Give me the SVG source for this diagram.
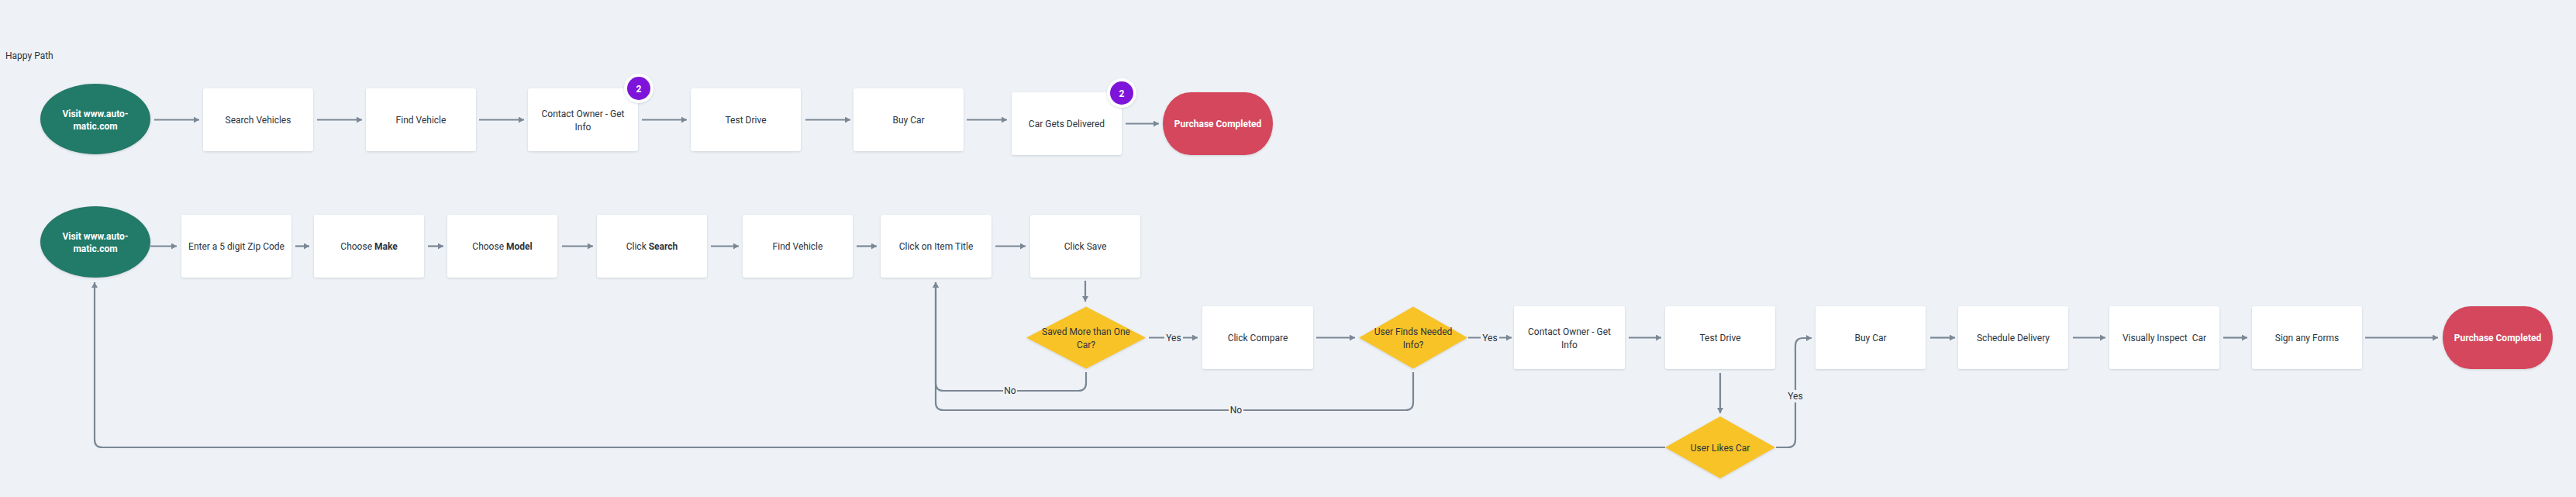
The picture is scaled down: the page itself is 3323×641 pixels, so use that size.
<svg xmlns="http://www.w3.org/2000/svg" width="3323" height="641" viewBox="0 0 3323 641">
<defs>
<filter id="sh" x="-20%" y="-20%" width="140%" height="150%">
<feDropShadow dx="0" dy="1" stdDeviation="1.5" flood-color="#8a96a3" flood-opacity="0.35"/>
</filter>
<marker id="ah" markerUnits="userSpaceOnUse" markerWidth="10" markerHeight="10" refX="7" refY="4" orient="auto">
<path d="M0,0 L7,4 L0,8 z" fill="#7b8795"/>
</marker>
<style>
.bg{fill:#eef2f6}
.box{fill:#ffffff;filter:url(#sh)}
.t{font-family:Roboto,"Liberation Sans",sans-serif;font-size:12px;fill:#2c3440;text-anchor:middle}
.tl{font-family:Roboto,"Liberation Sans",sans-serif;font-size:12px;fill:#2c3440}
.tw{font-family:Roboto,"Liberation Sans",sans-serif;font-size:12px;fill:#ffffff;font-weight:bold;text-anchor:middle}
.b{font-weight:bold}
.start{fill:#217a69;filter:url(#sh)}
.end{fill:#d4465b;filter:url(#sh)}
.dec{fill:#f8c325;filter:url(#sh)}
.c{fill:none;stroke:#7b8795;stroke-width:2.2;marker-end:url(#ah)}
.cn{fill:none;stroke:#7b8795;stroke-width:2.2}
.lb{fill:#eef2f6}
.badge{fill:#ffffff;filter:url(#sh)}
.bp{fill:#7e14d9}
</style>
</defs>
<rect class="bg" x="0" y="0" width="3323" height="641"/>
<text class="tl" x="7" y="76">Happy Path</text>

<g id="connectors">
<!-- row 1 -->
<path class="c" d="M199,154.5 H257"/>
<path class="c" d="M409,154.5 H467"/>
<path class="c" d="M618,154.5 H676"/>
<path class="c" d="M828,154.5 H886"/>
<path class="c" d="M1039,154.5 H1097"/>
<path class="c" d="M1247,154.5 H1299"/>
<path class="c" d="M1452,159.5 H1495"/>
<!-- row 2 -->
<path class="c" d="M194,317.5 H228"/>
<path class="c" d="M381,317.5 H399"/>
<path class="c" d="M552,317.5 H572"/>
<path class="c" d="M725,317.5 H765"/>
<path class="c" d="M917,317.5 H953"/>
<path class="c" d="M1105,317.5 H1131"/>
<path class="c" d="M1284,317.5 H1323"/>
<path class="c" d="M1400,362 V389"/>
<!-- row 3 -->
<path class="c" d="M1482,435.5 H1545"/>
<rect class="lb" x="1502" y="428" width="24" height="15"/>
<text class="t" x="1514" y="440">Yes</text>
<path class="c" d="M1698,435.5 H1748"/>
<path class="c" d="M1894,435.5 H1950"/>
<rect class="lb" x="1910" y="428" width="24" height="15"/>
<text class="t" x="1922" y="440">Yes</text>
<path class="c" d="M2101,435.5 H2143"/>
<path class="c" d="M2219,481 V533"/>
<path class="c" d="M2291,577 H2306 Q2316,577 2316,567 V446 Q2316,436 2326,436 H2337"/>
<rect class="lb" x="2304" y="503" width="24" height="16"/>
<text class="t" x="2316" y="515">Yes</text>
<path class="c" d="M2490,435.5 H2522"/>
<path class="c" d="M2674,435.5 H2716"/>
<path class="c" d="M2868,435.5 H2899"/>
<path class="c" d="M3051,435.5 H3145"/>
<!-- No loops -->
<path class="c" d="M1401,480 V494 Q1401,504 1391,504 H1217 Q1207,504 1207,494 V364"/>
<rect class="lb" x="1294" y="497" width="18" height="15"/>
<text class="t" x="1303" y="508">No</text>
<path class="c" d="M1823,480 V519 Q1823,529 1813,529 H1217 Q1207,529 1207,519 V364"/>
<rect class="lb" x="1585" y="522" width="19" height="15"/>
<text class="t" x="1594.5" y="533">No</text>
<path class="c" d="M2148,577 H132 Q122,577 122,567 V364"/>
</g>

<!-- Row 1 -->
<g id="start1"><ellipse class="start" cx="123" cy="153.5" rx="71" ry="45.5"/><text class="tw" x="123" y="151">Visit www.auto-</text><text class="tw" x="123" y="167">matic.com</text></g>
<g id="search-vehicles"><rect class="box" x="262" y="114" width="142" height="81" rx="3"/><text class="t" x="333" y="158.5">Search Vehicles</text></g>
<g id="find-vehicle-1"><rect class="box" x="472" y="114" width="142" height="81" rx="3"/><text class="t" x="543" y="158.5">Find Vehicle</text></g>
<g id="contact-owner-1"><rect class="box" x="681" y="114" width="142" height="81" rx="3"/><text class="t" x="752" y="151">Contact Owner - Get</text><text class="t" x="752" y="168">Info</text></g>
<g id="badge-1"><circle class="badge" cx="824" cy="114" r="19"/><circle class="bp" cx="824" cy="114" r="15"/><text class="tw" x="824" y="118.5">2</text></g>
<g id="test-drive-1"><rect class="box" x="891" y="114" width="142" height="81" rx="3"/><text class="t" x="962" y="158.5">Test Drive</text></g>
<g id="buy-car-1"><rect class="box" x="1101" y="114" width="142" height="81" rx="3"/><text class="t" x="1172" y="158.5">Buy Car</text></g>
<g id="car-delivered"><rect class="box" x="1305" y="119" width="142" height="81" rx="3"/><text class="t" x="1376" y="163.5">Car Gets Delivered</text></g>
<g id="badge-2"><circle class="badge" cx="1447" cy="120" r="19"/><circle class="bp" cx="1447" cy="120" r="15"/><text class="tw" x="1447" y="124.5">2</text></g>
<g id="purchase-1"><rect class="end" x="1500" y="119" width="142" height="81" rx="36" ry="40.5"/><text class="tw" x="1571" y="163.5">Purchase Completed</text></g>

<!-- Row 2 -->
<g id="start2"><ellipse class="start" cx="123" cy="312" rx="71" ry="46"/><text class="tw" x="123" y="308.5">Visit www.auto-</text><text class="tw" x="123" y="325">matic.com</text></g>
<g id="zip"><rect class="box" x="234" y="277" width="142" height="81" rx="3"/><text class="t" x="305" y="322">Enter a 5 digit Zip Code</text></g>
<g id="make"><rect class="box" x="405" y="277" width="142" height="81" rx="3"/><text class="t" x="476" y="322">Choose <tspan class="b">Make</tspan></text></g>
<g id="model"><rect class="box" x="577" y="277" width="142" height="81" rx="3"/><text class="t" x="648" y="322">Choose <tspan class="b">Model</tspan></text></g>
<g id="click-search"><rect class="box" x="770" y="277" width="142" height="81" rx="3"/><text class="t" x="841" y="322">Click <tspan class="b">Search</tspan></text></g>
<g id="find-vehicle-2"><rect class="box" x="958" y="277" width="142" height="81" rx="3"/><text class="t" x="1029" y="322">Find Vehicle</text></g>
<g id="item-title"><rect class="box" x="1136" y="277" width="143" height="81" rx="3"/><text class="t" x="1207.5" y="322">Click on Item Title</text></g>
<g id="click-save"><rect class="box" x="1329" y="277" width="142" height="81" rx="3"/><text class="t" x="1400" y="322">Click Save</text></g>

<!-- Row 3 -->
<g id="saved-more"><polygon class="dec" points="1401,395.5 1478,435.5 1401,475.5 1324,435.5"/><text class="t" x="1401" y="432">Saved More than One</text><text class="t" x="1401" y="448.5">Car?</text></g>
<g id="click-compare"><rect class="box" x="1551" y="395" width="143" height="81" rx="3"/><text class="t" x="1622.5" y="440">Click Compare</text></g>
<g id="finds-info"><polygon class="dec" points="1823,395.5 1893,435.5 1823,475.5 1753,435.5"/><text class="t" x="1823" y="432">User Finds Needed</text><text class="t" x="1823" y="448.5">Info?</text></g>
<g id="contact-owner-2"><rect class="box" x="1953" y="395" width="143" height="81" rx="3"/><text class="t" x="2024.5" y="432">Contact Owner - Get</text><text class="t" x="2024.5" y="448.5">Info</text></g>
<g id="test-drive-2"><rect class="box" x="2148" y="395" width="142" height="81" rx="3"/><text class="t" x="2219" y="440">Test Drive</text></g>
<g id="likes-car"><polygon class="dec" points="2219,537 2290,577 2219,617 2148,577"/><text class="t" x="2219" y="581.5">User Likes Car</text></g>
<g id="buy-car-2"><rect class="box" x="2342" y="395" width="142" height="81" rx="3"/><text class="t" x="2413" y="440">Buy Car</text></g>
<g id="schedule"><rect class="box" x="2526" y="395" width="142" height="81" rx="3"/><text class="t" x="2597" y="440">Schedule Delivery</text></g>
<g id="inspect"><rect class="box" x="2721" y="395" width="142" height="81" rx="3"/><text class="t" x="2792" y="440" xml:space="preserve">Visually Inspect  Car</text></g>
<g id="forms"><rect class="box" x="2905" y="395" width="142" height="81" rx="3"/><text class="t" x="2976" y="440">Sign any Forms</text></g>
<g id="purchase-2"><rect class="end" x="3151" y="395" width="142" height="81" rx="36" ry="40.5"/><text class="tw" x="3222" y="440">Purchase Completed</text></g>
</svg>
